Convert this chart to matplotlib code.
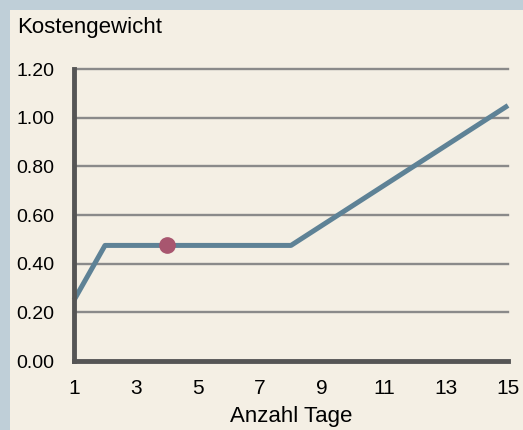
import matplotlib.pyplot as plt
from matplotlib.patches import Rectangle

plt.rcParams['font.family'] = ['Liberation Sans', 'DejaVu Sans']

# Kostenkurve
tage = [1, 2, 8, 15]
gewicht = [0.25, 0.475, 0.475, 1.05]
punkt_x = [4]
punkt_y = [0.475]
xticks = [1, 3, 5, 7, 9, 11, 13, 15]
yticks = [0.0, 0.2, 0.4, 0.6, 0.8, 1.0, 1.2]

fig = plt.figure(figsize=(5.23, 4.30), dpi=100)
fig.patch.set_facecolor('#BFCFD8')
fig.patches.append(Rectangle((10/523, 0), 1, (430-10)/430, transform=fig.transFigure,
                             facecolor='#F4EFE4', edgecolor='none', zorder=-10))

ax = fig.add_axes([74/523, (430-361)/430, (508-74)/523, (361-69)/430])
ax.set_facecolor('none')
ax.set_xlim(1, 15)
ax.set_ylim(0, 1.2)

for y in yticks[1:]:
    ax.axhline(y, color='#8A8A8A', lw=1.7, zorder=1, clip_on=False)

ax.plot(tage, gewicht, color='#5E8296', lw=3.6, zorder=3, clip_on=False, solid_capstyle='butt')
ax.plot(punkt_x, punkt_y, 'o', color='#A8566F', ms=11, zorder=4)

for s in ['top', 'right']:
    ax.spines[s].set_visible(False)
for s in ['left', 'bottom']:
    ax.spines[s].set_color('#555555')
    ax.spines[s].set_linewidth(3.5)
    ax.spines[s].set_zorder(5)

ax.set_xticks(xticks)
ax.set_yticks(yticks)
ax.set_yticklabels([f'{v:.2f}' for v in yticks])
ax.tick_params(length=0, colors='black')
ax.tick_params(axis='y', pad=14, labelsize=14)
ax.tick_params(axis='x', pad=13, labelsize=15)
ax.set_xlabel('Anzahl Tage', fontsize=16, labelpad=6)

fig.text(17/523, 1 - 28/430, 'Kostengewicht', fontsize=16, va='center', ha='left')

fig.savefig('out.png', dpi=100, facecolor=fig.get_facecolor())
